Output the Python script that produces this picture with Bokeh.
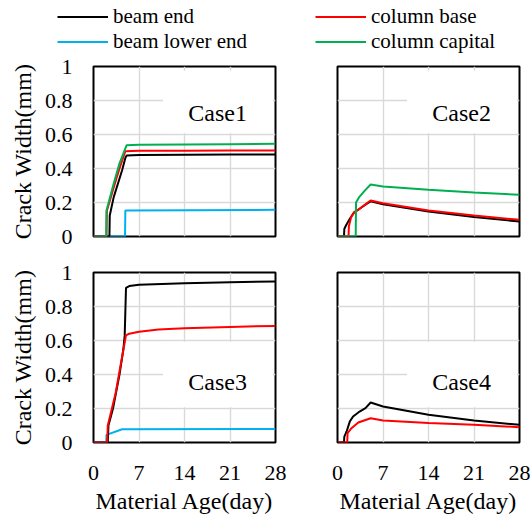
from bokeh.plotting import figure
from bokeh.layouts import column, row
from bokeh.models import (Legend, LegendItem, Label, BoxAnnotation, FixedTicker,
                          Range1d, ColumnDataSource, NumeralTickFormatter)
from bokeh.embed import file_html
from bokeh.resources import INLINE

SERIF = "Liberation Serif"

# ---------------- data ----------------
series_names = ["beam end", "beam lower end", "column base", "column capital"]
series_colors = ["#000000", "#00B0F0", "#FF0000", "#00B050"]

x_ticks = [0, 7, 14, 21, 28]
y_ticks = [0, 0.2, 0.4, 0.6, 0.8, 1]
case_names = ["Case1", "Case2", "Case3", "Case4"]

# Case1
c1_beam_end_x = [0, 2.45, 2.5, 3.1, 4.4, 4.9, 5.1, 7, 14, 21, 28]
c1_beam_end_y = [0, 0, 0.124, 0.23, 0.39, 0.462, 0.476, 0.479, 0.481, 0.482, 0.483]
c1_beam_lower_x = [0, 4.85, 4.9, 28]
c1_beam_lower_y = [0, 0, 0.153, 0.157]
c1_col_base_x = [0, 2.0, 2.05, 3.2, 4.0, 4.9, 7, 14, 21, 28]
c1_col_base_y = [0, 0, 0.15, 0.3, 0.4, 0.502, 0.504, 0.505, 0.506, 0.506]
c1_col_cap_x = [0, 1.95, 2.0, 3.1, 4.0, 5.1, 7, 14, 21, 28]
c1_col_cap_y = [0, 0, 0.153, 0.31, 0.43, 0.537, 0.539, 0.541, 0.543, 0.545]

# Case2
c2_beam_end_x = [0, 1.0, 1.05, 1.3, 1.9, 2.5, 3.4, 4.4, 5.1, 7, 14, 21, 28]
c2_beam_end_y = [0, 0, 0.045, 0.065, 0.104, 0.14, 0.163, 0.19, 0.207, 0.19, 0.147, 0.115, 0.088]
c2_col_base_x = [0, 1.7, 1.75, 2.1, 2.6, 3.4, 4.4, 5.1, 7, 14, 21, 28]
c2_col_base_y = [0, 0, 0.06, 0.114, 0.143, 0.163, 0.192, 0.212, 0.196, 0.153, 0.124, 0.098]
c2_col_cap_x = [0, 2.8, 2.85, 3.3, 4.2, 5.1, 7, 14, 21, 28]
c2_col_cap_y = [0, 0, 0.2, 0.23, 0.27, 0.306, 0.294, 0.275, 0.259, 0.245]

# Case3
c3_beam_end_x = [0, 2.2, 2.3, 3.0, 4.0, 4.6, 4.8, 5.0, 5.5, 7, 14, 21, 28]
c3_beam_end_y = [0, 0, 0.1, 0.2, 0.4, 0.55, 0.63, 0.91, 0.92, 0.928, 0.937, 0.943, 0.947]
c3_beam_lower_x = [0, 1.95, 2.0, 4.4, 28]
c3_beam_lower_y = [0, 0, 0.045, 0.078, 0.08]
c3_col_base_x = [0, 2.1, 2.2, 3.4, 4.15, 5.0, 5.5, 7, 10, 14, 21, 28]
c3_col_base_y = [0, 0, 0.1, 0.29, 0.45, 0.63, 0.64, 0.652, 0.665, 0.672, 0.68, 0.686]

# Case4
c4_beam_end_x = [0, 1.0, 1.05, 1.4, 1.9, 2.4, 3.4, 4.3, 5.1, 7, 14, 21, 28]
c4_beam_end_y = [0, 0, 0.035, 0.065, 0.124, 0.153, 0.182, 0.202, 0.235, 0.212, 0.163, 0.129, 0.104]
c4_col_base_x = [0, 1.5, 1.55, 2.15, 3.2, 5.1, 7, 14, 21, 28]
c4_col_base_y = [0, 0, 0.055, 0.084, 0.118, 0.143, 0.129, 0.114, 0.104, 0.09]

# ---------------- layout constants ----------------
TOTAL_W = 530
FRAME_W = 182
FRAME_H = 170
LEFT_W = 296
LEG_H = 54
GRID_COLOR = "#d9d9d9"


def make_panel(name, curves, left, bottom, box_yr, label_y):
    kw = dict(frame_width=FRAME_W, frame_height=FRAME_H,
              x_range=Range1d(0, 28), y_range=Range1d(0, 1),
              output_backend="svg", toolbar_location=None)
    if left:
        kw.update(min_border_left=93, min_border_right=LEFT_W - 93 - FRAME_W)
    else:
        kw.update(min_border_left=41, min_border_right=TOTAL_W - LEFT_W - 41 - FRAME_W)
    if bottom:
        kw.update(min_border_top=18, min_border_bottom=73)
    else:
        kw.update(min_border_top=66 - LEG_H, min_border_bottom=18)
    p = figure(**kw)
    p.outline_line_color = "black"
    p.outline_line_width = 2
    p.outline_line_alpha = 1
    p.background_fill_color = "white"

    p.xaxis.ticker = FixedTicker(ticks=x_ticks)
    p.yaxis.ticker = FixedTicker(ticks=y_ticks)
    p.yaxis.formatter = NumeralTickFormatter(format="0.[0]")
    for ax in (p.xaxis[0], p.yaxis[0]):
        ax.axis_line_color = None
        ax.major_tick_line_color = None
        ax.minor_tick_line_color = None
        ax.major_tick_out = 0
        ax.major_tick_in = 0
        ax.major_label_text_font = SERIF
        ax.major_label_text_font_size = "22px"
        ax.major_label_text_color = "black"
        ax.axis_label_text_font = SERIF
        ax.axis_label_text_font_size = "24px"
        ax.axis_label_text_font_style = "normal"
        ax.axis_label_text_color = "black"
    p.yaxis.major_label_standoff = 21
    p.xaxis.major_label_standoff = 23
    p.xaxis.axis_label_standoff = 5
    p.yaxis.axis_label_standoff = 6
    if left:
        p.yaxis.axis_label = "Crack Width(mm)"
    else:
        p.yaxis.visible = False
    if bottom:
        p.xaxis.axis_label = "Material Age(day)"
    else:
        p.xaxis.visible = False

    p.xgrid.grid_line_color = GRID_COLOR
    p.ygrid.grid_line_color = GRID_COLOR
    p.xgrid.grid_line_width = 1.4
    p.ygrid.grid_line_width = 1.4

    box = BoxAnnotation(left=10.7, right=27.6, bottom=box_yr[0], top=box_yr[1],
                        fill_color="white", fill_alpha=1, line_color=None,
                        level="underlay")
    p.add_layout(box)

    for xs, ys, color in curves:
        src = ColumnDataSource(dict(x=xs, y=ys))
        p.line("x", "y", source=src, line_color=color, line_width=2)

    p.add_layout(Label(x=19.1, y=label_y, text=name, text_align="center",
                       text_baseline="alphabetic", text_font=SERIF,
                       text_font_size="24px", text_color="black"))
    return p


K, B, R, G = series_colors[0], series_colors[1], series_colors[2], series_colors[3]

p1 = make_panel(case_names[0], [(c1_beam_lower_x, c1_beam_lower_y, B),
                                (c1_beam_end_x, c1_beam_end_y, K),
                                (c1_col_base_x, c1_col_base_y, R),
                                (c1_col_cap_x, c1_col_cap_y, G)],
                True, False, (0.608, 0.975), 0.725)
p2 = make_panel(case_names[1], [(c2_beam_end_x, c2_beam_end_y, K),
                                (c2_col_base_x, c2_col_base_y, R),
                                (c2_col_cap_x, c2_col_cap_y, G)],
                False, False, (0.608, 0.975), 0.727)
p3 = make_panel(case_names[2], [(c3_beam_lower_x, c3_beam_lower_y, B),
                                (c3_beam_end_x, c3_beam_end_y, K),
                                (c3_col_base_x, c3_col_base_y, R)],
                True, True, (0.208, 0.592), 0.353)
p4 = make_panel(case_names[3], [(c4_beam_end_x, c4_beam_end_y, K),
                                (c4_col_base_x, c4_col_base_y, R)],
                False, True, (0.208, 0.592), 0.353)

# ---------------- legend strip ----------------
lg = figure(width=TOTAL_W, height=LEG_H, x_range=Range1d(0, 1), y_range=Range1d(0, 1),
            output_backend="svg", toolbar_location=None, min_border=0,
            outline_line_color=None)
lg.axis.visible = False
lg.grid.visible = False
items = []
nan = float("nan")
for name, color in zip(series_names, series_colors):
    r = lg.line(x="x", y="y", source=ColumnDataSource(dict(x=[nan], y=[nan])),
                line_color=color, line_width=2)
    items.append(LegendItem(label=name, renderers=[r]))
legend = Legend(items=items, ncols=2, location=(57, 0.5), orientation="vertical",
                glyph_width=51, glyph_height=23, label_height=23, label_width=202,
                label_standoff=5, spacing=-2, padding=0, margin=0,
                label_text_font=SERIF, label_text_font_size="21px",
                label_text_color="black", label_text_baseline="middle",
                border_line_color=None, background_fill_alpha=0)
lg.add_layout(legend, "center")

layout = column(lg, row(p1, p2), row(p3, p4))

open("out.html", "w").write(file_html(layout, INLINE))
